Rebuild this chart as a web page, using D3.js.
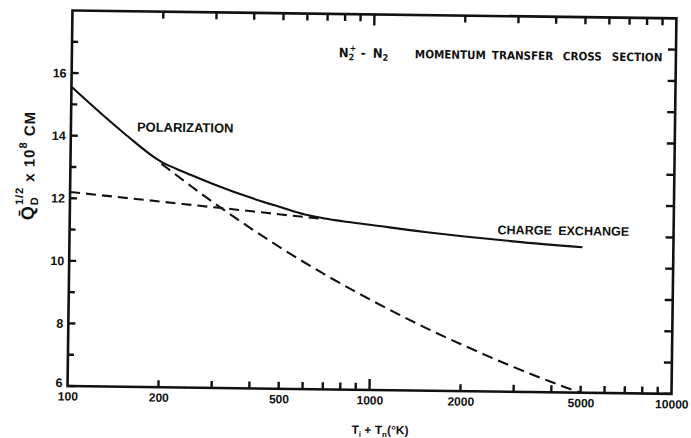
<!DOCTYPE html>
<html>
<head>
<meta charset="utf-8">
<script src="https://cdn.jsdelivr.net/npm/d3@7"></script>
<style>
  html, body { margin: 0; padding: 0; background: #fff; }
  svg { display: block; }
  text { font-family: "Liberation Sans", Arial, Helvetica, sans-serif; font-weight: bold; fill: #111; }
  .narrow { font-family: "Liberation Sans Narrow", "Arial Narrow", "DejaVu Sans Condensed", sans-serif; }
</style>
</head>
<body>
<svg id="chart" width="691" height="438"></svg>
<script>
// Temperature (K) and cross section values, Q_D^(1/2) x 10^8 cm
const tempsTotal = [100, 150, 200, 225, 250, 300, 400, 500, 600, 700, 800, 1000, 1500, 2000, 3000, 5000];
const qTotal     = [15.56, 14.10, 13.20, 12.98, 12.80, 12.50, 12.08, 11.80, 11.58, 11.46, 11.38, 11.27, 11.07, 10.95, 10.80, 10.65];

const tempsPolarization = [200, 300, 400, 500, 700, 1000, 1500, 2000, 3000, 4000, 5000];
const qPolarization     = [13.14, 11.91, 11.10, 10.51, 9.68, 8.88, 8.04, 7.50, 6.79, 6.33, 6.00];

const tempsChargeExchange = [100, 200, 300, 400, 500, 600, 700];
const qChargeExchange     = [12.20, 11.93, 11.77, 11.66, 11.57, 11.50, 11.44];

// Axis ticks
const xMajorTicks  = [100, 200, 500, 1000, 2000, 5000, 10000];
const xTickLabels  = ["100", "200", "500", "1000", "2000", "5000", "10000"];
const xMinorTicks  = [200, 300, 400, 500, 600, 700, 800, 900, 2000, 3000, 4000, 5000, 6000, 7000, 8000, 9000];
const xDecadeTicks = [1000];
const yMajorTicks  = [6, 8, 10, 12, 14, 16];
const yTickLabels  = ["6", "8", "10", "12", "14", "16"];
const yMinorTicks  = [7, 9, 11, 13, 15, 17];

const svg = d3.select("#chart");
const root = svg.append("g").attr("transform", "rotate(0.75, 373, 200)");

const x = d3.scaleLog().domain([100, 10000]).range([70, 674]);
const y = d3.scaleLinear().domain([6, 18]).range([390, 14.4]);

const ink = "#111";
const x0 = x.range()[0], x1 = x.range()[1];
const yB = y(6), yT = y(18);

// tick labels from the D3 axes
function labelAxis(g) {
  g.select(".domain").remove();
  g.selectAll(".tick line").remove();
  g.selectAll(".tick text").attr("fill", ink).style("font-size", "12px").style("font-weight", "bold");
}
root.append("g").attr("transform", `translate(0,${yB})`)
  .call(d3.axisBottom(x).tickValues(xMajorTicks).tickFormat((d, i) => xTickLabels[i]).tickSize(0).tickPadding(6))
  .call(labelAxis);
root.append("g").attr("transform", `translate(${x0},0)`)
  .call(d3.axisLeft(y).tickValues(yMajorTicks).tickFormat((d, i) => yTickLabels[i]).tickSize(0).tickPadding(5))
  .call(labelAxis)
  .call(g => g.selectAll(".tick text").style("font-size", "12.5px"))
  .call(g => g.selectAll(".tick text").filter(d => d === 6).attr("dy", "0.05em"));

// inward tick marks on all four sides, drawn as one path
const tickPath = d3.path();
function xTicks(vals, len) {
  vals.forEach(v => {
    tickPath.moveTo(x(v), yB); tickPath.lineTo(x(v), yB - len);
    tickPath.moveTo(x(v), yT); tickPath.lineTo(x(v), yT + len);
  });
}
function yTicks(vals, lenL, lenR) {
  vals.forEach(v => {
    tickPath.moveTo(x0, y(v)); tickPath.lineTo(x0 + lenL, y(v));
    tickPath.moveTo(x1, y(v)); tickPath.lineTo(x1 - lenR, y(v));
  });
}
xTicks(xMinorTicks, 7);
xTicks(xDecadeTicks, 11);
yTicks(yMajorTicks, 7, 8);
yTicks(yMinorTicks, 6, 8);
root.append("path")
  .attr("d", tickPath.toString())
  .attr("fill", "none").attr("stroke", ink).attr("stroke-width", 2.4);

// frame
root.append("rect")
  .attr("x", x0).attr("y", yT)
  .attr("width", x1 - x0).attr("height", yB - yT)
  .attr("fill", "none").attr("stroke", ink).attr("stroke-width", 2.6);

// curves
const line = d3.line().curve(d3.curveMonotoneX);
function pts(ts, qs) { return ts.map((t, i) => [x(t), y(qs[i])]); }

root.append("path")
  .attr("d", line(pts(tempsTotal, qTotal)))
  .attr("fill", "none").attr("stroke", ink).attr("stroke-width", 2.1);

root.append("path")
  .attr("d", line(pts(tempsPolarization, qPolarization)))
  .attr("fill", "none").attr("stroke", ink).attr("stroke-width", 2.1)
  .attr("stroke-dasharray", "11,6");

root.append("path")
  .attr("d", line(pts(tempsChargeExchange, qChargeExchange)))
  .attr("fill", "none").attr("stroke", ink).attr("stroke-width", 2.1)
  .attr("stroke-dasharray", "10,6");

// curve labels
root.append("text").attr("x", 136).attr("y", 134.5).style("font-size", "13px").text("POLARIZATION");
root.append("text").attr("x", 498).attr("y", 232.5).style("font-size", "12.5px")
  .style("word-spacing", "3px").text("CHARGE EXCHANGE");

// title
const title = root.append("text").attr("class", "narrow").attr("y", 57.7).style("font-size", "11.5px");
title.append("tspan").attr("x", 337).style("font-size", "13px").text("N");
title.append("tspan").attr("dy", 3).style("font-size", "9px").text("2");
title.append("tspan").attr("dx", -5).attr("dy", -9).style("font-size", "9px").text("+");
title.append("tspan").attr("x", 359).attr("dy", 6).style("font-size", "13px").text("-");
title.append("tspan").attr("x", 371).style("font-size", "13px").text("N");
title.append("tspan").attr("dy", 3).style("font-size", "9px").text("2");
title.append("tspan").attr("x", 413).attr("dy", -3).text("MOMENTUM");
title.append("tspan").attr("x", 490).text("TRANSFER");
title.append("tspan").attr("x", 561).text("CROSS");
title.append("tspan").attr("x", 610).text("SECTION");

// axis titles
const xt = root.append("text").attr("x", 383).attr("y", 434).attr("text-anchor", "middle").style("font-size", "12px");
xt.append("tspan").text("T");
xt.append("tspan").attr("dy", 3).style("font-size", "8px").text("i");
xt.append("tspan").attr("dy", -3).text(" + T");
xt.append("tspan").attr("dy", 3).style("font-size", "8px").text("n");
xt.append("tspan").attr("dy", -3).text("(°K)");

const yt = root.append("text")
  .attr("transform", "translate(34,170) rotate(-90)")
  .attr("text-anchor", "middle").style("font-size", "15px").style("letter-spacing", "1px");
yt.append("tspan").style("font-size", "18px").text("Q\u0304");
yt.append("tspan").attr("dy", 4).style("font-size", "11px").text("D");
yt.append("tspan").attr("dx", -9).attr("dy", -15).style("font-size", "11px").text("1/2");
yt.append("tspan").attr("dy", 11).text(" x 10");
yt.append("tspan").attr("dy", -8).style("font-size", "11px").text("8");
yt.append("tspan").attr("dy", 8).text(" CM");
</script>
</body>
</html>
